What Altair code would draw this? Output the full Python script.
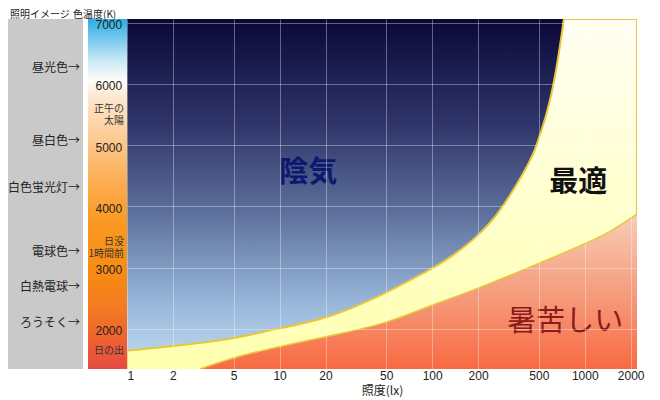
import altair as alt
import pandas as pd

# Kruithof-style chart: illuminance (lx) vs colour temperature (K)
upper_lx = [1, 2, 5.03, 9.6, 13.6, 18.4, 50.6, 83.2, 101, 137, 200, 266, 324, 376, 425,
            472, 516, 565, 610, 648, 678, 720, 729, 2200]
upper_k = [1645, 1720, 1850, 2000, 2080, 2160, 2600, 2880, 2995, 3205, 3535, 3875, 4185, 4450, 4690,
           4935, 5215, 5540, 5885, 6225, 6520, 6960, 7060, 7060]
lower_lx = [3, 5, 10, 20, 50, 100, 200, 500, 1000, 1400, 2200]
lower_k = [1345, 1525, 1710, 1870, 2110, 2385, 2665, 3070, 3390, 3565, 3875]

x_ticks = [1, 2, 5, 10, 20, 50, 100, 200, 500, 1000, 2000]
y_ticks = [2000, 3000, 4000, 5000, 6000, 7000]

lamp_names = ["昼光色→", "昼白色→", "白色蛍光灯→", "電球色→", "白熱電球→", "ろうそく→"]
lamp_k = [6260, 5070, 4300, 3250, 2680, 2100]

sun_names = ["正午の\n太陽", "日没\n1時間前", "日の出"]
sun_k = [5590, 3420, 1635]

zone_names = ["陰気", "最適", "暑苦しい"]
zone_lx = [15.4, 906, 745]
zone_k = [4546, 4382, 2112]
zone_colors = ["#0c1a6e", "#111111", "#8b1a1a"]
zone_bold = [True, True, False]

header_names = ["照明イメージ", "色温度(K)"]

W, H = 510, 350
JP = "Noto Sans CJK JP"
NUM = "Liberation Sans"

x_scale = alt.Scale(type="log", domain=[1, 2200], nice=False)
y_scale = alt.Scale(domain=[1345, 7060], nice=False, zero=False)

x_axis = alt.Axis(values=x_ticks, format="d", grid=True, gridColor="white", gridOpacity=0.35,
                  domain=False, ticks=False, tickSize=0, labelPadding=1, labelFont=NUM,
                  labelFontSize=12, labelColor="#222", title="照度(lx)", titleFont=JP,
                  titleFontSize=12, titleFontWeight="normal", titleColor="#222",
                  titlePadding=4, zindex=1)
y_axis = alt.Axis(values=y_ticks, format="d", grid=True, gridColor="white", gridOpacity=0.35,
                  domain=False, ticks=False, tickSize=0, labelPadding=32, labelAlign="left",
                  labelOffset=2, labelFont=NUM, labelFontSize=12, labelColor="#222",
                  title="", zindex=1)

X = lambda: alt.X("lx:Q", scale=x_scale, axis=x_axis)
Y = lambda: alt.Y("k:Q", scale=y_scale, axis=y_axis)

one = pd.DataFrame({"a": [0]})
upper_df = pd.DataFrame({"lx": upper_lx, "k": upper_k})
lower_df = pd.DataFrame({"lx": lower_lx, "k": lower_k})
lamp_df = pd.DataFrame({"name": lamp_names, "k": lamp_k})
sun_df = pd.DataFrame({"name": sun_names, "k": sun_k})
zone_df = pd.DataFrame({"name": zone_names, "lx": zone_lx, "k": zone_k,
                        "c": zone_colors, "b": zone_bold})

def grad(stops):
    return alt.Gradient(gradient="linear", x1=0, x2=0, y1=0, y2=1,
                        stops=[alt.GradientStop(offset=o, color=c) for o, c in stops])

bg = alt.Chart(one).mark_rect(fill=grad([
    (0, "#0a0838"), (0.3, "#2f356a"), (0.55, "#5d6f9b"), (0.8, "#95b4d8"), (1, "#c2ddf2")
])).encode(x=alt.value(0), x2=alt.value(W), y=alt.value(0), y2=alt.value(H))

gray = alt.Chart(one).mark_rect(fill="#c9c9c9").encode(
    x=alt.value(-119), x2=alt.value(-44), y=alt.value(0), y2=alt.value(H))

cbar = alt.Chart(one).mark_rect(fill=grad([
    (0, "#2aaee2"), (0.06, "#7ccaee"), (0.12, "#cbe9f6"), (0.175, "#fffdf8"),
    (0.23, "#fde6cc"), (0.35, "#fdc88e"), (0.46, "#fcae55"), (0.575, "#fa9a22"),
    (0.72, "#f88c12"), (0.83, "#f37a22"), (0.92, "#ee6032"), (1, "#e64a42")
])).encode(x=alt.value(-39), x2=alt.value(0), y=alt.value(0), y2=alt.value(H))

yellow = alt.Chart(upper_df).mark_area(
    clip=True, interpolate="monotone", stroke="#e8c63a", strokeWidth=2,
    fill=grad([(0, "#fffef2"), (0.4, "#ffffd0"), (1, "#ffff9e")])
).encode(x=X(), y=Y(), y2=alt.value(H))

red = alt.Chart(lower_df).mark_area(
    clip=True, interpolate="monotone",
    fill=grad([(0, "#f7cdb6"), (0.35, "#f59a7a"), (0.7, "#f8633a"), (1, "#ff3c0a")])
).encode(x=X(), y=Y(), y2=alt.value(H))

lower_line = alt.Chart(lower_df).mark_line(
    clip=True, interpolate="monotone", stroke="#e8c63a", strokeWidth=1.5
).encode(x=X(), y=Y())

lamps = alt.Chart(lamp_df).mark_text(align="right", baseline="middle", font=JP,
                                      fontSize=12, color="#222").encode(
    x=alt.value(-47), y=Y(), text="name:N")

suns = alt.Chart(sun_df).mark_text(align="right", baseline="middle", font=JP,
                                    fontSize=10, lineHeight=12, lineBreak="\n",
                                    color="#333").encode(
    x=alt.value(-3), y=Y(), text="name:N")

zones_bold = alt.Chart(zone_df).transform_filter("datum.b").mark_text(
    align="center", baseline="middle", font=JP, fontSize=29, fontWeight="bold").encode(
    x=X(), y=Y(), text="name:N", color=alt.Color("c:N", scale=None))

zones_norm = alt.Chart(zone_df).transform_filter("!datum.b").mark_text(
    align="center", baseline="middle", font=JP, fontSize=29, fontWeight="normal").encode(
    x=X(), y=Y(), text="name:N", color=alt.Color("c:N", scale=None))

hdr_df = pd.DataFrame({"name": header_names, "px": [-117, -54]})
headers = alt.Chart(hdr_df).mark_text(align="left", baseline="middle", font=JP,
                                       fontSize=10, color="#222").encode(
    x=alt.X("px:Q", scale=None), y=alt.value(-4.5), text="name:N")

chart = alt.layer(bg, gray, cbar, yellow, red, lower_line, lamps, suns,
                  zones_bold, zones_norm, headers).properties(
    width=W, height=H,
    autosize=alt.AutoSizeParams(type="none"),
    padding={"left": 119, "top": 11, "right": 15, "bottom": 31},
    background="white",
).configure_view(stroke="transparent")

chart.save("out.html", embed_options={"renderer": "svg", "actions": False})
